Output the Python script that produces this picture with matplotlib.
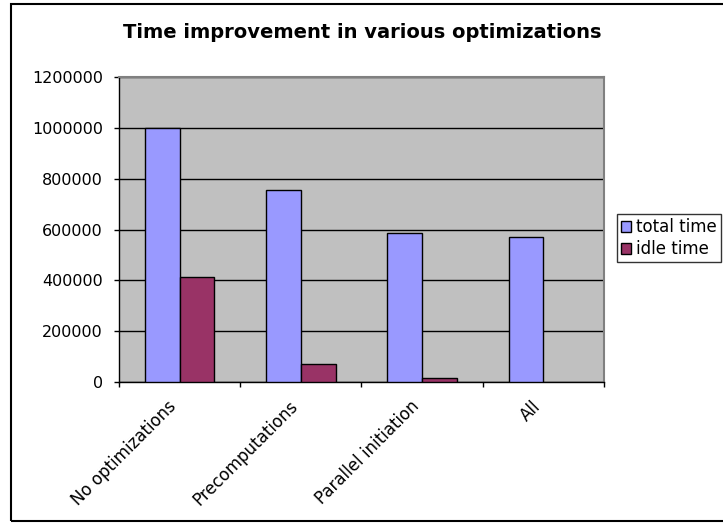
import matplotlib
matplotlib.use("Agg")
import matplotlib.pyplot as plt
from matplotlib.patches import Rectangle
from matplotlib.transforms import ScaledTranslation
import numpy as np

categories = ["No optimizations", "Precomputations", "Parallel initiation", "All"]
total_time = [1000000, 755000, 588000, 571000]
idle_time = [415000, 72000, 15000, 0]
series_names = ["total time", "idle time"]
y_ticks = [0, 200000, 400000, 600000, 800000, 1000000, 1200000]

W, H = 723, 523
fig = plt.figure(figsize=(W / 100, H / 100), dpi=100)
plt.rcParams["font.family"] = ["DejaVu Sans"]

# chart frame (runs past the right edge)
fig.patches.append(Rectangle((11 / W, 2 / H), 1.0, (519 - 2) / H,
                             transform=fig.transFigure, fill=False,
                             edgecolor="black", linewidth=1.5))

ax = fig.add_axes([119 / W, (H - 382) / H, (604 - 119) / W, (382 - 77) / H])
ax.set_facecolor("#C0C0C0")

x = np.arange(len(categories))
bw = 1 / 3.5
ax.bar(x - bw / 2, total_time, bw, color="#9999FF", edgecolor="black",
       linewidth=1.0, label=series_names[0], zorder=3)
idle_bars = ax.bar(x + bw / 2, idle_time, bw, color="#993366",
                   edgecolor="black", linewidth=1.0,
                   label=series_names[1], zorder=3)
for bar, v in zip(idle_bars, idle_time):
    if v == 0:
        bar.set_visible(False)

ax.set_xlim(-0.5, len(categories) - 0.5)
ax.set_ylim(0, 1200000)
ax.set_yticks(y_ticks)
ax.set_yticklabels([str(v) for v in y_ticks], fontsize=11.5)
ax.yaxis.grid(True, color="black", linewidth=1.0, zorder=1)
ax.set_axisbelow(True)

ax.set_xticks(np.arange(len(categories) + 1) - 0.5, minor=False)
ax.set_xticklabels([])
ax.set_xticks(x, minor=True)
ax.set_xticklabels(categories, minor=True, rotation=45, ha="right",
                   va="top", rotation_mode="anchor", fontsize=12)
ax.tick_params(axis="x", which="minor", length=0, pad=11)
ax.tick_params(axis="x", which="major", length=3.6, width=1, direction="out")
ax.tick_params(axis="y", length=3.6, width=1, direction="out", pad=8)

# nudge the slanted category labels so they end just left of the centre
shift = ScaledTranslation(-12 / 100, 0, fig.dpi_scale_trans)
for lbl in ax.get_xticklabels(minor=True):
    lbl.set_transform(lbl.get_transform() + shift)

for s in ["top", "right"]:
    ax.spines[s].set_color("#808080")
    ax.spines[s].set_linewidth(1.5)
for s in ["left", "bottom"]:
    ax.spines[s].set_color("black")
    ax.spines[s].set_linewidth(1.0)

fig.text(362 / W, 1 - 33 / H, "Time improvement in various optimizations",
         ha="center", va="center", fontsize=14, fontweight="bold")

leg = fig.legend(loc="upper left", bbox_to_anchor=(617 / W, 1 - 214 / H),
                 frameon=True, fancybox=False, fontsize=12,
                 handlelength=0.6, handleheight=0.6, handletextpad=0.3,
                 borderpad=0.25, labelspacing=0.25, borderaxespad=0)
leg.get_frame().set_edgecolor("black")
leg.get_frame().set_linewidth(1.0)

fig.savefig("out.png", dpi=100)
